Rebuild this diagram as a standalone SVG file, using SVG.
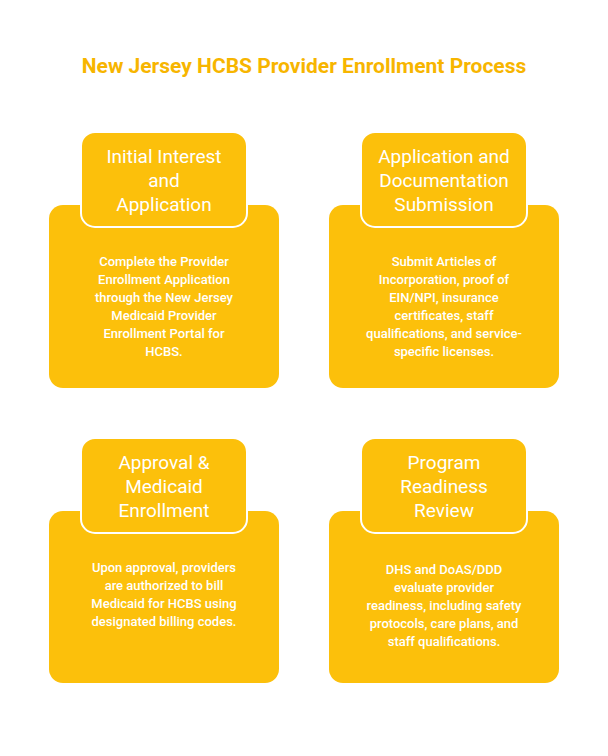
<svg xmlns="http://www.w3.org/2000/svg" width="608" height="756" viewBox="0 0 608 756">
<style>
.card{fill:#FCC00B}
.tab{fill:#FCC00B;stroke:#fff;stroke-width:2}
.h{font-family:Roboto,"Liberation Sans",sans-serif;font-size:19px;fill:#fff;text-anchor:middle}
.b{font-family:Roboto,"Liberation Sans",sans-serif;font-size:13px;font-weight:500;fill:#fff;text-anchor:middle}
.t{font-family:Roboto,"Liberation Sans",sans-serif;font-size:21px;font-weight:bold;fill:#F7B500;text-anchor:middle}
</style>
<rect width="608" height="756" fill="#fff"/>
<text class="t" x="304" y="73">New Jersey HCBS Provider Enrollment Process</text>
<g id="n1">
<rect class="card" x="49" y="205" width="230" height="183" rx="14"/>
<rect class="tab" x="81" y="132" width="166" height="95" rx="14"/>
<text class="h" x="164" y="163">Initial Interest</text><text class="h" x="164" y="187">and</text><text class="h" x="164" y="211">Application</text>
<text class="b" x="164" y="266">Complete the Provider</text><text class="b" x="164" y="284">Enrollment Application</text><text class="b" x="164" y="302">through the New Jersey</text><text class="b" x="164" y="320">Medicaid Provider</text><text class="b" x="164" y="338">Enrollment Portal for</text><text class="b" x="164" y="356">HCBS.</text>
</g>
<g id="n2">
<rect class="card" x="329" y="205" width="230" height="183" rx="14"/>
<rect class="tab" x="361" y="132" width="166" height="95" rx="14"/>
<text class="h" x="444" y="163">Application and</text><text class="h" x="444" y="187">Documentation</text><text class="h" x="444" y="211">Submission</text>
<text class="b" x="444" y="266">Submit Articles of</text><text class="b" x="444" y="284">Incorporation, proof of</text><text class="b" x="444" y="302">EIN/NPI, insurance</text><text class="b" x="444" y="320">certificates, staff</text><text class="b" x="444" y="338">qualifications, and service-</text><text class="b" x="444" y="356">specific licenses.</text>
</g>
<g id="n3">
<rect class="card" x="49" y="511" width="230" height="172" rx="14"/>
<rect class="tab" x="81" y="438" width="166" height="95" rx="14"/>
<text class="h" x="164" y="469">Approval &amp;</text><text class="h" x="164" y="493">Medicaid</text><text class="h" x="164" y="517">Enrollment</text>
<text class="b" x="164" y="572">Upon approval, providers</text><text class="b" x="164" y="590">are authorized to bill</text><text class="b" x="164" y="608">Medicaid for HCBS using</text><text class="b" x="164" y="626">designated billing codes.</text>
</g>
<g id="n4">
<rect class="card" x="329" y="511" width="230" height="172" rx="14"/>
<rect class="tab" x="361" y="438" width="166" height="95" rx="14"/>
<text class="h" x="444" y="469">Program</text><text class="h" x="444" y="493">Readiness</text><text class="h" x="444" y="517">Review</text>
<text class="b" x="444" y="574">DHS and DoAS/DDD</text><text class="b" x="444" y="592">evaluate provider</text><text class="b" x="444" y="610">readiness, including safety</text><text class="b" x="444" y="628">protocols, care plans, and</text><text class="b" x="444" y="646">staff qualifications.</text>
</g>
<g id="connectors"/>
</svg>
